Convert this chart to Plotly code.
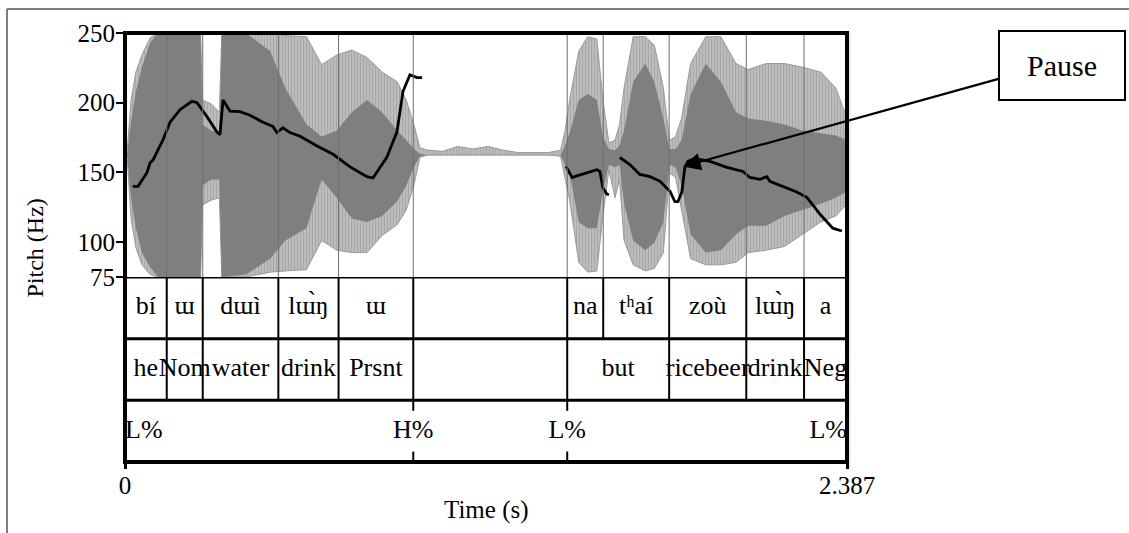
import plotly.graph_objects as go

T_END = 2.387
FONT = "Liberation Serif, DejaVu Serif, Times New Roman, serif"

# ---- Waveform envelope (normalised amplitude) ----
wave_t = [0.000, 0.008, 0.020, 0.036, 0.056, 0.083, 0.109, 0.250, 0.256, 0.285, 0.312, 0.320,
          0.400, 0.480, 0.530, 0.600, 0.650, 0.700, 0.750, 0.800, 0.850, 0.900, 0.930, 0.955,
          0.975, 1.000, 1.050, 1.100, 1.150, 1.200, 1.250, 1.300, 1.350, 1.400, 1.440, 1.455,
          1.470, 1.500, 1.530, 1.560, 1.580, 1.600, 1.620, 1.635, 1.650, 1.680, 1.720, 1.750,
          1.780, 1.800, 1.820, 1.840, 1.870, 1.920, 1.970, 2.020, 2.060, 2.120, 2.180, 2.240,
          2.300, 2.350, 2.387]
wave_outer_top = [0, 0.05, 0.45, 0.68, 0.82, 0.96, 1, 1, 0.45, 0.42, 0.35, 1,
                  1, 1, 0.98, 0.97, 0.74, 0.82, 0.86, 0.80, 0.68, 0.60, 0.45, 0.25,
                  0.06, 0.04, 0.03, 0.07, 0.05, 0.07, 0.04, 0.02, 0.02, 0.02, 0.04, 0.20,
                  0.45, 0.85, 0.97, 0.95, 0.45, 0.10, 0.12, 0.25, 0.55, 0.97, 0.97, 0.90,
                  0.55, 0.12, 0.15, 0.30, 0.75, 0.97, 0.97, 0.75, 0.70, 0.75, 0.75, 0.72,
                  0.68, 0.55, 0.30]
wave_inner_top = [0, 0.02, 0.28, 0.52, 0.72, 0.92, 1, 1, 0.25, 0.20, 0.18, 1,
                  1, 0.85, 0.55, 0.25, 0.15, 0.20, 0.35, 0.45, 0.35, 0.20, 0.12, 0.05,
                  0.01, 0, 0, 0, 0, 0, 0, 0, 0, 0, 0, 0.08,
                  0.18, 0.45, 0.50, 0.45, 0.15, 0.05, 0.04, 0.08, 0.20, 0.60, 0.75, 0.60,
                  0.30, 0.05, 0.05, 0.12, 0.50, 0.75, 0.60, 0.35, 0.30, 0.28, 0.25, 0.20,
                  0.18, 0.16, 0.12]
wave_inner_bot = [0, -0.02, -0.35, -0.60, -0.80, -0.92, -1, -1, -0.25, -0.20, -0.20, -1,
                  -0.98, -0.85, -0.70, -0.60, -0.20, -0.35, -0.52, -0.55, -0.50, -0.38, -0.25, -0.10,
                  -0.01, 0, 0, 0, 0, 0, 0, 0, 0, 0, 0, -0.08,
                  -0.15, -0.55, -0.60, -0.60, -0.30, -0.08, -0.10, -0.08, -0.40, -0.70, -0.78, -0.72,
                  -0.55, -0.08, -0.10, -0.25, -0.65, -0.80, -0.78, -0.65, -0.58, -0.58, -0.50, -0.45,
                  -0.40, -0.35, -0.30]
wave_outer_bot = [0, -0.05, -0.52, -0.76, -0.90, -0.98, -1, -1, -0.41, -0.37, -0.35, -1,
                  -1, -0.96, -0.95, -0.94, -0.70, -0.78, -0.80, -0.80, -0.66, -0.57, -0.45, -0.25,
                  -0.02, 0, 0, 0, 0, 0, 0, 0, 0, 0, -0.01, -0.20,
                  -0.37, -0.88, -0.96, -0.95, -0.50, -0.12, -0.35, -0.20, -0.70, -0.90, -0.95, -0.93,
                  -0.80, -0.15, -0.18, -0.45, -0.85, -0.90, -0.90, -0.88, -0.80, -0.78, -0.75, -0.65,
                  -0.55, -0.50, -0.40]

# ---- Pitch contour (Hz) ----
pitch1_t = [0.026, 0.043, 0.073, 0.083, 0.093, 0.126, 0.149, 0.182, 0.221, 0.238, 0.271, 0.304,
            0.314, 0.324, 0.347, 0.380, 0.413, 0.456, 0.489, 0.502, 0.522, 0.545, 0.579, 0.635,
            0.688, 0.744, 0.800, 0.820, 0.866, 0.899, 0.919, 0.942, 0.965, 0.982]
pitch1_hz = [140, 140, 150, 157, 159, 173.6, 186, 195, 201, 200, 190, 179,
             177, 202, 194, 193.6, 191, 186, 183, 178.6, 182, 178.6, 176, 169,
             163, 154, 147, 146, 161, 179, 208, 220, 218, 218]
pitch2_t = [1.458, 1.478, 1.494, 1.527, 1.560, 1.570, 1.580, 1.593, 1.600]
pitch2_hz = [154.3, 146.4, 147.5, 150, 152, 150.7, 139, 134.5, 134]
pitch3_t = [1.636, 1.669, 1.702, 1.736, 1.769, 1.802, 1.818, 1.828, 1.841, 1.851, 1.861, 1.884,
            1.934, 1.990, 2.043, 2.066, 2.099, 2.122, 2.132, 2.175, 2.221, 2.255, 2.298, 2.340, 2.370]
pitch3_hz = [160.7, 155.7, 148.6, 147, 143.6, 136.4, 129, 129, 136, 153.6, 158, 160,
             157.9, 153.6, 150.7, 146.4, 145, 147, 143.6, 140, 136, 132, 120, 110, 108]

# ---- TextGrid tiers ----
tier1_bounds = [0, 0.138, 0.257, 0.507, 0.706, 0.953, 1.462, 1.581, 1.799, 2.054, 2.245, T_END]
tier1_labels = ["bí", "ɯ", "dɯì", "lɯ̀ŋ", "ɯ", "", "na", "tʰaí", "zoù", "lɯ̀ŋ", "a"]
tier2_bounds = [0, 0.138, 0.257, 0.507, 0.706, 0.953, 1.462, 1.799, 2.054, 2.245, T_END]
tier2_labels = ["he", "Nom", "water", "drink", "Prsnt", "", "but", "ricebeer", "drink", "Neg"]
tier3_times = [0, 0.953, 1.462, T_END]
tier3_labels = ["L%", "H%", "L%", "L%"]

pitch_ticks = [75, 100, 150, 200, 250]
time_ticks = [0, T_END]
time_ticktext = ["0", "2.387"]

# pointer to the pause in the contour
pause_t, pause_hz = 1.845, 154.3

fig = go.Figure()

# zero line of the waveform
fig.add_trace(go.Scatter(x=[0, T_END], y=[0, 0], mode="lines",
                         line=dict(color="#b5b5b5", width=1), xaxis="x", yaxis="y",
                         hoverinfo="skip", showlegend=False))
# outer (light, striated) envelope
fig.add_trace(go.Scatter(x=wave_t, y=wave_outer_top, mode="lines", line=dict(width=1, color="#9a9a9a"),
                         xaxis="x", yaxis="y", hoverinfo="skip", showlegend=False))
fig.add_trace(go.Scatter(x=wave_t, y=wave_outer_bot, mode="lines", line=dict(width=1, color="#9a9a9a"),
                         fill="tonexty", fillcolor="#b4b4b4",
                         fillpattern=dict(shape="|", fgcolor="#8e8e8e", bgcolor="#c2c2c2",
                                          size=3, solidity=0.5),
                         xaxis="x", yaxis="y", hoverinfo="skip", showlegend=False))
# inner (dark) envelope
fig.add_trace(go.Scatter(x=wave_t, y=wave_inner_top, mode="lines", line=dict(width=0, color="#808080"),
                         xaxis="x", yaxis="y", hoverinfo="skip", showlegend=False))
fig.add_trace(go.Scatter(x=wave_t, y=wave_inner_bot, mode="lines", line=dict(width=0, color="#808080"),
                         fill="tonexty", fillcolor="#7f7f7f", xaxis="x", yaxis="y",
                         hoverinfo="skip", showlegend=False))

# pitch contour
for tt, hz in [(pitch1_t, pitch1_hz), (pitch2_t, pitch2_hz), (pitch3_t, pitch3_hz)]:
    fig.add_trace(go.Scatter(x=tt, y=hz, mode="lines", line=dict(color="black", width=2.8),
                             xaxis="x", yaxis="y3", hoverinfo="skip", showlegend=False))

# tier texts
def mids(b):
    return [(b[i] + b[i + 1]) / 2 for i in range(len(b) - 1)]

fig.add_trace(go.Scatter(x=mids(tier1_bounds), y=[2.5] * len(tier1_labels), text=tier1_labels,
                         mode="text", textfont=dict(family=FONT, size=26, color="black"),
                         xaxis="x", yaxis="y2", hoverinfo="skip", showlegend=False))
fig.add_trace(go.Scatter(x=mids(tier2_bounds), y=[1.5] * len(tier2_labels), text=tier2_labels,
                         mode="text", textfont=dict(family=FONT, size=26, color="black"),
                         xaxis="x", yaxis="y2", hoverinfo="skip", showlegend=False))
pos3 = ["middle right"] + ["middle center"] * (len(tier3_times) - 2) + ["middle left"]
fig.add_trace(go.Scatter(x=tier3_times, y=[0.5] * len(tier3_times), text=tier3_labels,
                         mode="text", textposition=pos3,
                         textfont=dict(family=FONT, size=26, color="black"),
                         xaxis="x", yaxis="y2", hoverinfo="skip", showlegend=False, cliponaxis=False))

shapes = []
# gray boundary lines through the pitch panel
for b in tier1_bounds[1:-1]:
    shapes.append(dict(type="line", xref="x", yref="y", x0=b, x1=b, y0=-1, y1=1,
                       line=dict(color="#6e6e6e", width=1), layer="above"))
# interval boundaries in tiers
for b in tier1_bounds[1:-1]:
    shapes.append(dict(type="line", xref="x", yref="y2", x0=b, x1=b, y0=2, y1=3,
                       line=dict(color="black", width=2), layer="above"))
for b in tier2_bounds[1:-1]:
    shapes.append(dict(type="line", xref="x", yref="y2", x0=b, x1=b, y0=1, y1=2,
                       line=dict(color="black", width=2), layer="above"))
for p in tier3_times[1:-1]:
    shapes.append(dict(type="line", xref="x", yref="y2", x0=p, x1=p, y0=0.83, y1=1,
                       line=dict(color="black", width=2), layer="above"))
    shapes.append(dict(type="line", xref="x", yref="y2", x0=p, x1=p, y0=0, y1=0.17,
                       line=dict(color="black", width=2), layer="above"))
# tier separators
for yv in [1, 2, 3]:
    shapes.append(dict(type="line", xref="paper", yref="y2", x0=0, x1=1, y0=yv, y1=yv,
                       line=dict(color="black", width=3), layer="above"))
# outer thick frame
shapes.append(dict(type="rect", xref="paper", yref="paper", x0=0, x1=1, y0=0, y1=1,
                   line=dict(color="black", width=4), layer="above"))
# page frame lines
shapes.append(dict(type="line", xref="paper", yref="paper", x0=-0.1634, x1=-0.1634, y0=1.056, y1=-0.2,
                   line=dict(color="#555555", width=1.5), layer="above"))
shapes.append(dict(type="line", xref="paper", yref="paper", x0=-0.1634, x1=1.40, y0=1.056, y1=1.056,
                   line=dict(color="#555555", width=1.5), layer="above"))
shapes.append(dict(type="line", xref="paper", yref="paper", x0=1.0042, x1=1.0042, y0=1.0, y1=-0.012,
                   line=dict(color="#dddddd", width=1), layer="above"))

annotations = [
    dict(text="Pitch (Hz)", xref="paper", yref="paper", x=-0.1247, y=0.5, textangle=-90,
         showarrow=False, font=dict(family=FONT, size=24, color="black"),
         xanchor="center", yanchor="middle"),
    dict(text="Time (s)", xref="paper", yref="paper", x=0.5, y=-0.112, showarrow=False,
         font=dict(family=FONT, size=25, color="black"), xanchor="center", yanchor="middle"),
    dict(text="", x=pause_t, y=pause_hz, xref="x", yref="y3", ax=317, ay=-88,
         showarrow=True, arrowhead=2, arrowsize=1.6, arrowwidth=2.2, arrowcolor="black"),
    dict(text="Pause", xref="paper", yref="paper", x=1.2978, y=0.924, showarrow=False,
         font=dict(family=FONT, size=30, color="black"), bordercolor="black", borderwidth=2,
         borderpad=2, width=120, height=63, bgcolor="white", xanchor="center", yanchor="middle"),
]

fig.update_layout(
    width=1129, height=533,
    margin=dict(l=125, r=282, t=33, b=71),
    paper_bgcolor="white", plot_bgcolor="white",
    font=dict(family=FONT, size=25, color="black"),
    showlegend=False,
    xaxis=dict(domain=[0, 1], range=[0, T_END], anchor="y2", tickvals=time_ticks,
               ticktext=time_ticktext, ticks="outside", ticklen=6, tickwidth=3, tickcolor="black",
               showgrid=False, zeroline=False, showline=False, ticklabelstandoff=-5,
               tickfont=dict(family=FONT, size=25, color="black")),
    yaxis=dict(domain=[0.4312, 1], range=[-1, 1], visible=False, anchor="x", fixedrange=True),
    yaxis2=dict(domain=[0, 0.4312], range=[0, 3], visible=False, anchor="x"),
    yaxis3=dict(overlaying="y", anchor="x", side="left", range=[75, 250], tickvals=pitch_ticks,
                ticks="outside", ticklen=8, tickwidth=2, tickcolor="black", showgrid=False,
                zeroline=False, showline=False, ticklabelstandoff=-4,
                tickfont=dict(family=FONT, size=25, color="black")),
    shapes=shapes,
    annotations=annotations,
)

fig.write_html("out.html")
